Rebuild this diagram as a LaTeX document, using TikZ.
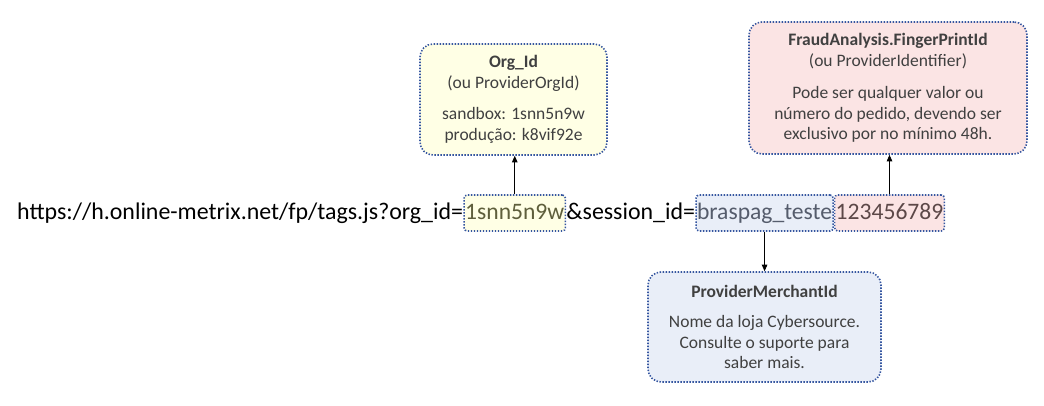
\documentclass[tikz,border=0pt]{standalone}
\usepackage{fontspec}
\setmainfont{Carlito}
\usetikzlibrary{arrows.meta}
\definecolor{dotblue}{HTML}{3556A0}
\definecolor{boxtext}{HTML}{404040}
\definecolor{yfill}{HTML}{FFFFE5}
\definecolor{bfill}{HTML}{E9EEF8}
\definecolor{pfill}{HTML}{FBE4E4}
\definecolor{ytext}{HTML}{5F5F3C}
\definecolor{btext}{HTML}{555C6C}
\definecolor{ptext}{HTML}{5C4848}
\tikzset{
  dotborder/.style={draw=dotblue, line width=1.6pt, dash pattern=on 1.4pt off 1.6pt},
  infobox/.style={dotborder, rounded corners=13pt, align=center, text=boxtext,
    font=\fontsize{17.5}{20.5}\selectfont, inner sep=0pt},
  urltext/.style={inner sep=0pt, anchor=base west, font=\fontsize{23.9}{28}\selectfont},
  hl/.style={dotborder, rounded corners=3pt, anchor=base west, inner xsep=1pt, inner ysep=1pt,
    text height=23pt, text depth=11pt, font=\fontsize{23.6}{28}\selectfont},
  conn/.style={-{Triangle[width=5.5pt,length=6.5pt]}, line width=0.8pt, black},
}
\begin{document}
\begin{tikzpicture}[x=1pt,y=-1pt]
\useasboundingbox (0,0) rectangle (1044,406);
% URL line
\node[urltext] (pre) at (17,219) {https://h.online-metrix.net/fp/tags.js?org\_id=};
\node[hl, fill=yfill, text=ytext] (org val) at (pre.base east) {1snn5n9w};
\node[urltext] (mid) at (org val.base east) {\&session\_id=};
\node[hl, fill=bfill, text=btext] (merch val) at (mid.base east) {braspag\_teste};
\node[hl, fill=pfill, text=ptext] (fp val) at (merch val.base east) {123456789};
% info boxes
\node[infobox, fill=yfill, minimum width=187pt, minimum height=111pt] (org) at (513.5,99.5)
  {\textbf{Org\_Id}\\(ou ProviderOrgId)\\[11pt]sandbox: 1snn5n9w\\produção: k8vif92e};
\node[infobox, fill=pfill, minimum width=278pt, minimum height=132pt] (fraud) at (888,88)
  {\textbf{FraudAnalysis.FingerPrintId}\\(ou ProviderIdentifier)\\[12pt]Pode ser qualquer valor ou\\número do pedido, devendo ser\\exclusivo por no mínimo 48h.};
\node[infobox, fill=bfill, minimum width=233pt, minimum height=110pt] (merch) at (764.5,327)
  {\textbf{ProviderMerchantId}\\[10pt]Nome da loja Cybersource.\\Consulte o suporte para\\saber mais.};
% connectors
\draw[conn] (org val.north) -- (org val.north |- org.south);
\draw[conn] (fp val.north) -- (fp val.north |- fraud.south);
\draw[conn] (merch val.south) -- (merch val.south |- merch.north);
\end{tikzpicture}
\end{document}
